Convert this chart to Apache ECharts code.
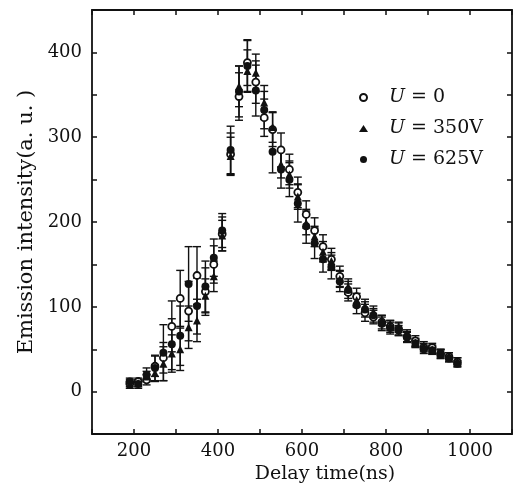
<!DOCTYPE html>
<html>
<head>
  <meta charset="utf-8">
  <style>
    html, body { margin: 0; padding: 0; width: 100%; height: 100%; overflow: hidden; background: #fff; }
  </style>
</head>
<body>
  <div id="container" style="width: 520px; height: 489px;"></div>
  <script src="https://cdn.jsdelivr.net/npm/echarts@6.0.0/dist/echarts.min.js"></script>
  <script>
    // delay time (ns)
    const delayTime = [190, 210, 230, 250, 270, 290, 310, 330, 350, 370, 390, 410, 430, 450, 470, 490, 510, 530, 550, 570,
      590, 610, 630, 650, 670, 690, 710, 730, 750, 770, 790, 810, 830, 850, 870, 890, 910, 930, 950, 970];

    // emission intensity (a.u.)
    const u0 = [10, 12, 14, 30, 40, 77, 110, 95, 137, 118, 150, 186, 280, 348, 388, 365, 323, 309, 285, 262,
      235, 209, 190, 171, 156, 136, 117, 112, 93, 88, 82, 77, 74, 65, 60, 52, 52, 45, 41, 35];
    const u350 = [8, 10, 18, 22, 33, 45, 50, 76, 84, 113, 136, 184, 278, 360, 378, 376, 341, 312, 268, 256,
      230, 199, 183, 165, 154, 133, 124, 108, 101, 94, 84, 78, 76, 68, 58, 54, 50, 46, 42, 36];
    const u625 = [12, 9, 20, 28, 46, 56, 66, 127, 101, 124, 158, 190, 285, 354, 384, 355, 332, 283, 262, 250,
      222, 195, 175, 156, 147, 130, 120, 102, 97, 90, 80, 75, 72, 64, 57, 50, 49, 44, 39, 33];

    // error bar half heights
    const u0Err = [4, 4, 6, 12, 18, 30, 33, 35, 34, 28, 22, 20, 25, 28, 27, 25, 22, 20, 20, 18,
      18, 16, 15, 14, 13, 12, 10, 10, 10, 8, 8, 7, 7, 6, 6, 5, 5, 5, 5, 5];
    const u350Err = [4, 4, 6, 10, 20, 22, 25, 25, 25, 20, 18, 18, 22, 24, 25, 22, 20, 18, 16, 16,
      15, 14, 12, 12, 10, 10, 9, 8, 8, 7, 6, 6, 6, 5, 5, 5, 5, 4, 4, 4];
    const u625Err = [4, 5, 8, 15, 33, 30, 35, 44, 33, 30, 22, 20, 28, 30, 30, 30, 22, 25, 22, 20,
      22, 20, 18, 15, 14, 12, 10, 10, 9, 8, 8, 7, 6, 6, 5, 5, 5, 5, 4, 4];

    const seriesNames = ['U0', 'U350', 'U625'];
    const legendLabels = { U0: ' = 0', U350: ' = 350V', U625: ' = 625V' };

    const ink = '#111';
    const font = 'DejaVu Serif';

    const dom = document.getElementById('container');
    const myChart = echarts.init(dom, null, { renderer: 'canvas' });

    function pairs(ys) {
      return delayTime.map((x, i) => [x, ys[i]]);
    }
    function bars(ys, errs) {
      return delayTime.map((x, i) => [x, ys[i] - errs[i], ys[i] + errs[i]]);
    }

    function renderErr(params, api) {
      const x = api.value(0);
      const lo = api.coord([x, api.value(1)]);
      const hi = api.coord([x, api.value(2)]);
      const w = 4;
      const style = { stroke: ink, lineWidth: 1.4 };
      return {
        type: 'group',
        children: [
          { type: 'line', shape: { x1: lo[0], y1: lo[1], x2: hi[0], y2: hi[1] }, style: style },
          { type: 'line', shape: { x1: lo[0] - w, y1: lo[1], x2: lo[0] + w, y2: lo[1] }, style: style },
          { type: 'line', shape: { x1: hi[0] - w, y1: hi[1], x2: hi[0] + w, y2: hi[1] }, style: style }
        ]
      };
    }

    function errSeries(ys, errs) {
      return {
        type: 'custom',
        renderItem: renderErr,
        data: bars(ys, errs),
        encode: { x: 0, y: [1, 2] },
        silent: true,
        z: 1
      };
    }

    const axisLine = { show: true, onZero: false, lineStyle: { color: ink, width: 1.8 } };
    const tick = { show: true, inside: true, length: 5, lineStyle: { color: ink, width: 1.5 } };

    const option = {
      backgroundColor: '#fff',
      animation: false,
      grid: { left: 92, right: 8, top: 10, bottom: 54 },
      legend: {
        orient: 'vertical',
        left: 354,
        top: 83,
        itemWidth: 9,
        itemHeight: 7,
        itemGap: 12,
        data: seriesNames,
        formatter: name => '{s|}{u|U}{t|' + legendLabels[name] + '}',
        textStyle: {
          color: ink,
          rich: {
            s: { width: 16 },
            u: { fontFamily: font, fontStyle: 'italic', fontSize: 19, color: ink },
            t: { fontFamily: font, fontSize: 19, color: ink }
          }
        }
      },
      xAxis: [
        {
          type: 'value', min: 100, max: 1100, interval: 100, position: 'bottom',
          axisLine: axisLine, axisTick: tick, splitLine: { show: false },
          axisLabel: {
            color: ink, fontFamily: font, fontSize: 18, margin: 8,
            formatter: v => (v % 200 === 0 && v >= 200 && v <= 1000) ? String(v) : ''
          },
          name: 'Delay time(ns)',
          nameLocation: 'middle',
          nameGap: 30,
          nameTextStyle: { color: ink, fontFamily: font, fontSize: 19, padding: [0, 0, 0, 46] }
        },
        {
          type: 'value', min: 100, max: 1100, interval: 100, position: 'top',
          axisLine: axisLine, axisTick: tick, axisLabel: { show: false }, splitLine: { show: false }
        }
      ],
      yAxis: [
        {
          type: 'value', min: -50, max: 450, interval: 50, position: 'left',
          axisLine: axisLine, axisTick: tick, splitLine: { show: false },
          axisLabel: {
            color: ink, fontFamily: font, fontSize: 18, margin: 10,
            formatter: v => (v % 100 === 0 && v >= 0 && v <= 400) ? String(v) : ''
          },
          name: 'Emission intensity(a. u. )',
          nameLocation: 'middle',
          nameGap: 55,
          nameTextStyle: { color: ink, fontFamily: font, fontSize: 21 }
        },
        {
          type: 'value', min: -50, max: 450, interval: 50, position: 'right',
          axisLine: axisLine, axisTick: tick, axisLabel: { show: false }, splitLine: { show: false }
        }
      ],
      series: [
        errSeries(u0, u0Err),
        errSeries(u350, u350Err),
        errSeries(u625, u625Err),
        {
          name: 'U0', type: 'scatter', data: pairs(u0), symbol: 'circle', symbolSize: 7,
          itemStyle: { color: '#fff', borderColor: ink, borderWidth: 1.8, opacity: 1 }, z: 3
        },
        {
          name: 'U350', type: 'scatter', data: pairs(u350), symbol: 'triangle', symbolSize: 8,
          itemStyle: { color: ink, opacity: 1 }, z: 3
        },
        {
          name: 'U625', type: 'scatter', data: pairs(u625), symbol: 'circle', symbolSize: 8,
          itemStyle: { color: ink, opacity: 1 }, z: 3
        }
      ]
    };

    myChart.setOption(option);
    window.addEventListener('resize', myChart.resize);
  </script>
</body>
</html>
